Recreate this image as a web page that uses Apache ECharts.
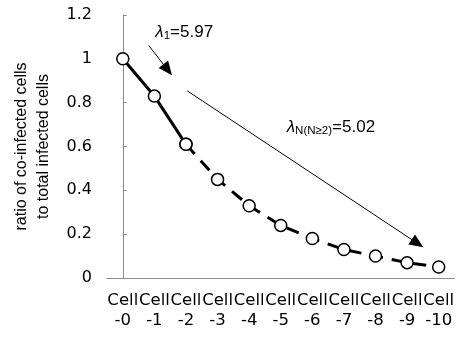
<!DOCTYPE html>
<html>
<head>
<meta charset="utf-8">
<script src="https://cdn.jsdelivr.net/npm/echarts@6/dist/echarts.min.js"></script>
<style>
  html, body {margin: 0; padding: 0; background: #fff;}
  #chart {width: 457px; height: 342px;}
</style>
</head>
<body>
<div id="chart"></div>
<script>
const categories = ['Cell\n-0', 'Cell\n-1', 'Cell\n-2', 'Cell\n-3', 'Cell\n-4', 'Cell\n-5',
  'Cell\n-6', 'Cell\n-7', 'Cell\n-8', 'Cell\n-9', 'Cell\n-10']
const ratio = [1.0, 0.83, 0.61, 0.45, 0.33, 0.24, 0.18, 0.13, 0.10, 0.07, 0.05]
// first three points joined by a solid line, the rest dashed
const solidCount = 3
const yTicks = {min: 0, max: 1.2, interval: 0.2}
// annotation arrows, in (category position, ratio) units
const arrowShort = [[0.82, 1.061], [1.42, 0.95]]
const arrowLong = [[2.04, 0.854], [9.33, 0.158]]
const labelShort = [1.03, 1.123]
const labelLong = [5.19, 0.689]

const solidData = ratio.map((v, i) => i < solidCount ? v : null)
const dashData = ratio.map((v, i) => i >= solidCount - 1 ? v : null)

const font = 'Liberation Sans, Arial, sans-serif'
const wideFont = 'DejaVu Sans, sans-serif'
const axisGray = '#8c8c8c'

const chart = echarts.init(document.getElementById('chart'))
chart.setOption({
  animation: false,
  textStyle: {fontFamily: font},
  grid: {left: 107, right: 0, top: 15, bottom: 64},
  xAxis: [{
    type: 'category',
    data: categories,
    boundaryGap: true,
    axisLine: {lineStyle: {color: axisGray, width: 1}},
    axisTick: {inside: true, length: 4, lineStyle: {color: axisGray}},
    axisLabel: {interval: 0, color: '#000', fontSize: 16.5, lineHeight: 20, margin: 13, fontFamily: wideFont}
  }, {
    type: 'value', min: -0.5, max: 10.5, show: false
  }],
  yAxis: {
    type: 'value',
    min: yTicks.min, max: yTicks.max, interval: yTicks.interval,
    name: 'ratio of co-infected cells\nto total infected cells',
    nameLocation: 'middle',
    nameGap: 52,
    nameTextStyle: {fontSize: 16, color: '#000', lineHeight: 22, fontFamily: font},
    axisLine: {show: true, lineStyle: {color: axisGray, width: 1}},
    axisTick: {show: true, inside: true, length: 4, lineStyle: {color: axisGray}},
    splitLine: {show: false},
    axisLabel: {color: '#000', fontSize: 16, margin: 15, fontFamily: wideFont}
  },
  series: [{
    type: 'line',
    data: dashData,
    symbol: 'circle',
    symbolSize: 12,
    lineStyle: {color: '#000', width: 3, type: [13, 9]},
    itemStyle: {color: '#fff', borderColor: '#000', borderWidth: 1.5},
    z: 3
  }, {
    type: 'line',
    data: solidData,
    symbol: 'circle',
    symbolSize: 12,
    lineStyle: {color: '#000', width: 3},
    itemStyle: {color: '#fff', borderColor: '#000', borderWidth: 1.5},
    z: 4
  }, {
    type: 'line',
    xAxisIndex: 1,
    data: [],
    silent: true,
    markLine: {
      silent: true,
      symbol: ['none', 'triangle'],
      symbolSize: [12, 14],
      label: {show: false},
      lineStyle: {color: '#000', width: 1, type: 'solid'},
      data: [
        [{coord: arrowShort[0]}, {coord: arrowShort[1]}],
        [{coord: arrowLong[0]}, {coord: arrowLong[1]}]
      ]
    },
    markPoint: {
      silent: true,
      symbolSize: 0,
      label: {
        show: true,
        position: 'right',
        distance: 0,
        color: '#000',
        fontSize: 17,
        fontFamily: font,
        rich: {
          l: {fontSize: 17, fontStyle: 'italic', fontFamily: font},
          s: {fontSize: 11.5, verticalAlign: 'bottom', padding: [8, 0, 0, 0], fontFamily: font},
          t: {fontSize: 17, fontFamily: font}
        }
      },
      data: [
        {coord: labelShort, label: {formatter: '{l|λ}{s|1}{t|=5.97}'}},
        {coord: labelLong, label: {formatter: '{l|λ}{s|N(N≥2)}{t|=5.02}'}}
      ]
    }
  }]
})
</script>
</body>
</html>
